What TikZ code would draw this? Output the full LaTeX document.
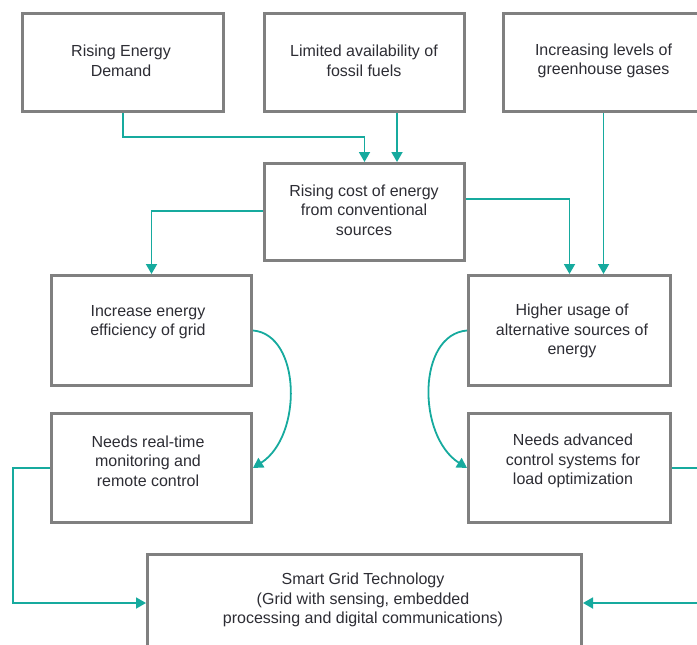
\documentclass[tikz,border=0pt]{standalone}
\usepackage{fontspec}
\setmainfont{Liberation Sans}
\usetikzlibrary{arrows.meta}
\definecolor{flowteal}{RGB}{22,170,158}
\definecolor{boxgray}{RGB}{128,128,128}
\definecolor{txtgray}{RGB}{45,45,52}
\tikzset{
  box/.style={draw=boxgray, line width=3pt, fill=white, inner sep=0pt},
  txt/.style={align=center, text=txtgray, inner sep=0pt,
              font=\fontsize{16}{19.5}\selectfont},
  arr/.style={draw=flowteal, line width=1.8pt,
              -{Triangle[length=10pt,width=11pt]}},
}
\begin{document}
\begin{tikzpicture}[x=1pt,y=-1pt]
\path[use as bounding box, clip] (0,0) rectangle (697,645);

% boxes
\node[box, minimum width=201pt, minimum height=98pt] (b1) at (123,62.5) {};
\node[box, minimum width=200pt, minimum height=98pt] (b2) at (364.5,62.5) {};
\node[box, minimum width=200pt, minimum height=98pt] (b3) at (603.5,62.5) {};
\node[box, minimum width=200pt, minimum height=97pt] (b4) at (364.5,212) {};
\node[box, minimum width=200pt, minimum height=110pt] (b5) at (151.5,330.5) {};
\node[box, minimum width=202pt, minimum height=110pt] (b6) at (569.5,330.5) {};
\node[box, minimum width=200pt, minimum height=109pt] (b7) at (151.5,468) {};
\node[box, minimum width=202pt, minimum height=109pt] (b8) at (569.5,468) {};
\node[box, minimum width=434pt, minimum height=97pt] (b9) at (364.5,603) {};

% labels
\node[txt] (t1) at (121,61) {Rising Energy\\Demand};
\node[txt] (t2) at (364,61) {Limited availability of\\fossil fuels};
\node[txt] (t3) at (603.5,61) {Increasing levels of\\greenhouse gases};
\node[txt] (t4) at (364,210) {Rising cost of energy\\from conventional\\sources};
\node[txt] (t5) at (148,322) {Increase energy\\efficiency of grid};
\node[txt] (t6) at (572,331) {Higher usage of\\alternative sources of\\energy};
\node[txt] (t7) at (148,461) {Needs real-time\\monitoring and\\remote control};
\node[txt] (t8) at (573,461) {Needs advanced\\control systems for\\load optimization};
\node[txt] (t9) at (363,600) {Smart Grid Technology\\(Grid with sensing, embedded\\processing and digital communications)};

% connectors
\draw[arr] (b1.south) -- ++(0,24) -| (b4.north);
\draw[arr] ([xshift=32.5pt]b2.south) -- ([xshift=32.5pt]b4.north);
\draw[arr] ([yshift=1pt]b4.west) -| (b5.north);
\draw[arr] ([yshift=13pt]b4.east) -| (b6.north);
\draw[arr] (b3.south) -- (b3.south |- b6.north);
\draw[arr] (b5.east) .. controls +(48,4) and +(50,-32) .. (b7.east);
\draw[arr] (b6.west) .. controls +(-50,4) and +(-50,-32) .. (b8.west);
\draw[arr] (b7.west) -- ++(-37,0) |- (b9.west);
\draw[arr] (b8.east) -- ++(45,0) |- (b9.east);
\end{tikzpicture}
\end{document}
